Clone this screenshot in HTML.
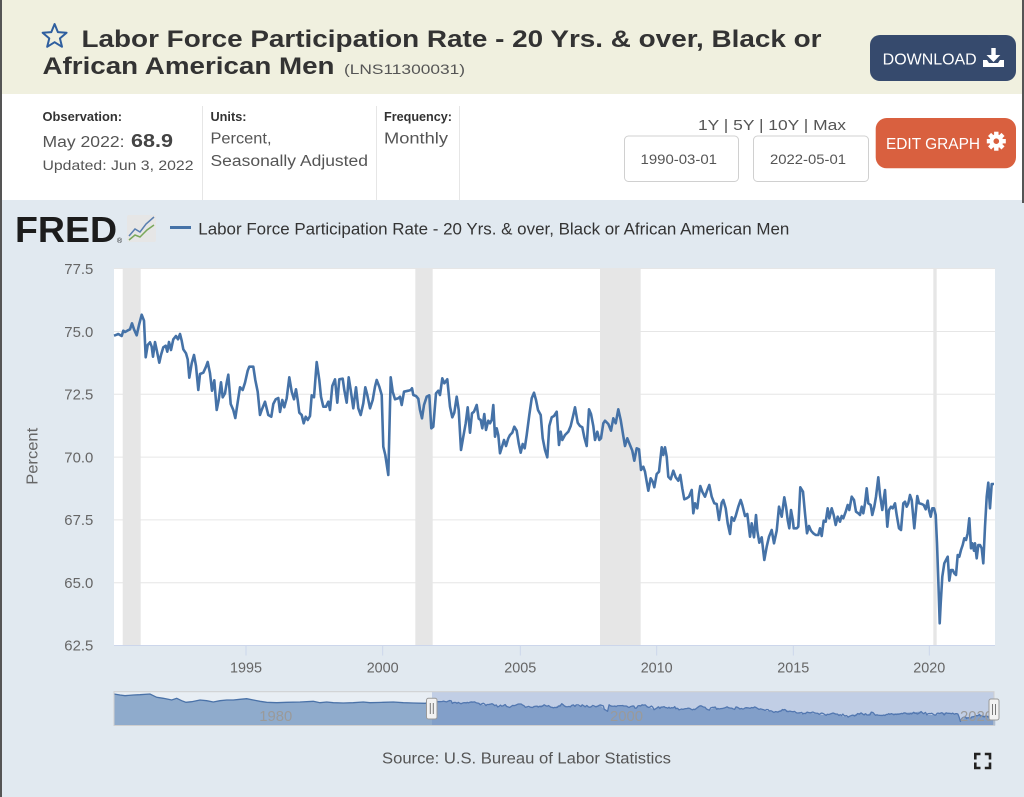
<!DOCTYPE html>
<html><head><meta charset="utf-8"><style>
html,body{margin:0;padding:0;background:#e1e9f0;}
svg{display:block}
text{font-family:"Liberation Sans",sans-serif}
</style></head><body>
<svg width="1024" height="797" viewBox="0 0 1024 797" xmlns="http://www.w3.org/2000/svg">
<defs>
<polyline id="s" fill="none" stroke-linejoin="round" vector-effect="non-scaling-stroke" points="114,335.7 116.7,334.7 118.3,334 120,335 121.7,336 123.3,330.7 125,332 127.3,330.7 130,329.3 132,323.3 134,329.3 136.7,335.3 139,325 141.7,314.7 144,320.7 145.7,357.3 147.7,345 150,342.3 151.7,346.7 153,356.7 155,342 156.7,350 159.3,362.7 161,355 163.3,347.3 165.7,345.7 167.3,351.7 169,342 171,350 173.3,339.3 176,336 178,339.3 180,334 181.7,340.7 183.3,349.3 186,353.3 187.7,359.3 189.3,377.7 191.7,363.3 194,355 196,366 198.3,390 200,374 203.3,372.7 206,366.7 207.7,362 210,373.3 212,390.7 214.3,380.3 216.7,410 218.7,400 221,382.3 222.7,397.3 225,393.3 226.7,382.7 228.3,374.7 230.7,404 233.3,410 235.3,418 238.3,398.3 240,387.3 242.7,390 245,382.7 247.7,370.7 249.3,366.7 253.3,366.7 255.3,380 257.7,391.7 260,415 261.7,410 265,401.7 268.3,415 271.3,416.7 273.3,404 275.7,399.3 278.3,398 280,412 282.3,400 284.3,407.3 286.7,398.3 289.3,377.3 291.7,391.7 294,399.3 296,389.3 297.7,400 299.3,412.7 301.7,415 303.7,423.3 305.7,416.7 307.7,420 310,416 311.7,395.3 314,397.3 316.7,362 319.3,380 321,396.7 323.3,406.7 326,406.7 328.3,401.7 330,410 332.3,386 335,379.3 337.3,402.7 339.3,379.3 342.7,378.7 344.3,390 346.7,402.7 348.7,377.3 350.7,390 353.3,408.3 356,387.3 358.3,408.3 360.7,415 363.3,403.3 365.3,387.3 367.3,395 370,408.3 372.7,400 375,386.7 376.7,380 379.3,386.7 381.7,395 383.3,446.7 385.3,455 388.3,475 390.7,377.3 392.7,391.7 395,399.3 398.3,398.3 400,396.7 401.7,405 404,391.7 408.3,390.7 410.7,390 412,388.3 413.3,395 416,396 418.3,398.7 420,410 422,418.3 424,405 426.7,396.7 429.3,395.3 431.3,428.3 433.3,426.7 436,393.3 438.3,390.7 440,395 442.3,378.3 444.3,383.3 447.3,379.3 450,406.7 452.3,417.3 454.3,412.7 456.7,396.7 458.7,410 461,450 463.3,436.7 465.7,423.3 467.7,407.3 470,432.7 472,413.3 474,411.7 476.7,405 478.7,418.7 480.7,420 482.3,428.3 484.3,414 486,430 488.3,420.7 490,423.3 491.7,420 493.3,405 495,436.7 496.7,428.3 498.3,435 500,453.3 502,446.7 504,440 506,446 508.3,438.3 510,435 512.3,432.7 514.3,426.7 516.7,430.7 518.7,443.3 520.7,452.7 522.7,444 524.7,448.3 526.7,435 529.3,415 531.7,398.3 534,392.7 536,400 538,410 540.7,415 542.7,438.3 545,450 547.3,457.3 549.3,426 551.7,417.3 554,416 556.7,411.7 559,445 560.7,431.7 562.3,440 565,435 568.3,431.7 570.7,426 573.3,415 575,407.3 577.7,422.7 580,426 582.3,427.3 584.3,437.3 586.7,446 589,409.3 591,414 593.3,426 595,440 597.3,431.7 599.3,440 601,438.3 603.3,423.3 605,420.7 608.3,424 611,430.7 613.3,418.3 615.7,423.3 618.3,409.3 620.7,420 623.3,436 625,446 627.3,438.3 630,445 632.3,450.7 634.3,460.7 636.7,448.3 639,449.3 641,470 643.3,466.7 645,471.7 646.7,481.7 648.3,490.7 650.7,478.3 652.7,481.7 654.3,487.3 656.7,474 659,471.7 661.7,447.3 663.3,455 665,447.3 666.7,456.7 668.3,476.7 670.7,479.3 673.3,470.7 675.7,477.3 678.3,480.7 680.3,475 682.3,488.3 684.3,499.3 686.7,498.3 689,496.7 691.7,490 693.3,513.3 695,503.3 697.3,508.3 699,494 700.3,486 702.3,491.7 705,496.7 707.3,490 709.3,485 711.7,496.7 714.3,503.3 716.7,504 719,520 721.7,502.7 723.3,500 725.7,508.3 727.7,523.3 730,534 731.7,517.3 734,520.7 735.7,516 738.3,506.7 740.7,500 742.3,505 745,516 747.3,514 750,536.7 751.7,523.3 754,537.3 756,515 757.3,530.7 759.3,542.7 761.7,537.3 764.3,560 766.7,546.7 769,536.7 771.7,530 774,543.3 776.7,530.7 779,506.7 781.7,516.7 784.3,497.3 786,506.7 787.7,520 789.3,528.3 791,510 792.7,519.3 793.7,528.3 796.7,528.3 798.3,526.7 800.3,487.3 803,491.7 805,513.3 807,533.3 809,526 811,530.7 813.3,533.3 815.7,535 818.3,535 820,528.3 821.7,536 823.7,520.7 825.7,521.7 827.7,508.3 829.3,518.3 831.7,508.3 833.7,515 835.7,525 837.7,516.7 840,521.7 841.7,516 843.3,518.3 845.7,511.7 847.7,505 849.3,510 851.7,496.7 854,500 856,511.7 858.3,513.3 860,515 861.7,506.7 863.3,513.3 865,503.3 866.7,488.3 868.3,503.3 870.7,505 872.3,515 874.3,506.7 876,496.7 878.3,477.3 880,495 882.3,510 885,490 887.3,526.7 889,510 891,506.7 892.7,508.3 895,503.3 896.7,515 899,528.3 901,530 903.3,503.3 905,501.7 906.7,506.7 908.3,503.3 910,495 911.7,500 914.3,528.3 915.7,513.3 917.3,496 919,503.3 921.7,504 923.7,505 925.7,509.3 927.7,500.7 929,510 930.7,516.7 932.3,508.3 934,508.3 935.7,515 937,543.3 938.3,580 939.7,623.3 940.7,603.3 942.3,576.7 944.3,563.3 946,560 947.7,556.7 949.3,580.7 951,570 952.7,570 954.3,573.3 956,575 957.7,555 959.3,556.7 961,550 962.7,545 964.3,538.3 966,540 967.7,533.3 969.3,518.3 971,548.3 972.3,543.3 974,550.7 975,543.3 976.7,558.3 978.3,545 980,545 981.7,548.3 983.3,563.3 985,526.7 986.7,496.7 988.3,482.7 990,508.3 991.7,484 994,484"/>
</defs>

<!-- section backgrounds -->
<rect x="0" y="0" width="1024" height="94" fill="#f0f0df"/>
<rect x="0" y="94" width="1024" height="106" fill="#ffffff"/>
<rect x="0" y="200" width="1024" height="597" fill="#e1e9f0"/>
<rect x="0" y="0" width="2" height="797" fill="#555"/>
<rect x="1022" y="0" width="2" height="203" fill="#555"/>

<!-- title -->
<polygon points="54.6,24 57.89,32.07 66.58,32.71 59.93,38.33 62.01,46.79 54.6,42.2 47.19,46.79 49.27,38.33 42.62,32.71 51.31,32.07" fill="none" stroke="#2f5f9f" stroke-width="2" stroke-linejoin="round"/>
<text x="81.5" y="47" font-size="24.5" font-weight="bold" fill="#333" textLength="740" lengthAdjust="spacingAndGlyphs">Labor Force Participation Rate - 20 Yrs. &amp; over, Black or</text>
<text x="42.5" y="74" font-size="24.5" font-weight="bold" fill="#333" textLength="292" lengthAdjust="spacingAndGlyphs">African American Men</text>
<text x="344" y="74" font-size="14" fill="#555" textLength="121" lengthAdjust="spacingAndGlyphs">(LNS11300031)</text>

<!-- download button -->
<rect x="870" y="35" width="146" height="46" rx="10" fill="#364a6d"/>
<text x="882.7" y="64.3" font-size="15.5" fill="#fff" textLength="94" lengthAdjust="spacingAndGlyphs">DOWNLOAD</text>
<g fill="#fff">
<rect x="991.3" y="48" width="4.4" height="8"/>
<polygon points="986.5,55 1000.3,55 993.5,62"/>
<path d="M983,60 h4 l2,3 h9 l2,-3 h4 v7 h-21 z"/>
</g>

<!-- info row -->
<g stroke="#e6e6e6" stroke-width="1">
<line x1="202.5" y1="106" x2="202.5" y2="200"/>
<line x1="376.5" y1="106" x2="376.5" y2="200"/>
<line x1="459.5" y1="106" x2="459.5" y2="200"/>
</g>
<text x="42.5" y="121" font-size="12.5" font-weight="bold" fill="#333" textLength="79.5" lengthAdjust="spacingAndGlyphs">Observation:</text>
<text x="42.5" y="147" font-size="15.5" fill="#555" textLength="82" lengthAdjust="spacingAndGlyphs">May 2022:</text>
<text x="131" y="147" font-size="18" font-weight="bold" fill="#444" textLength="42" lengthAdjust="spacingAndGlyphs">68.9</text>
<text x="42.5" y="170" font-size="14" fill="#555" textLength="151" lengthAdjust="spacingAndGlyphs">Updated: Jun 3, 2022</text>
<text x="210.5" y="121" font-size="12.5" font-weight="bold" fill="#333" textLength="36" lengthAdjust="spacingAndGlyphs">Units:</text>
<text x="210.5" y="143.5" font-size="15.5" fill="#555" textLength="61" lengthAdjust="spacingAndGlyphs">Percent,</text>
<text x="210.5" y="166" font-size="15.5" fill="#555" textLength="157.5" lengthAdjust="spacingAndGlyphs">Seasonally Adjusted</text>
<text x="384" y="121" font-size="12.5" font-weight="bold" fill="#333" textLength="68" lengthAdjust="spacingAndGlyphs">Frequency:</text>
<text x="384" y="143.5" font-size="15.5" fill="#555" textLength="64" lengthAdjust="spacingAndGlyphs">Monthly</text>

<text x="698" y="130" font-size="15" fill="#555" textLength="148" lengthAdjust="spacingAndGlyphs">1Y | 5Y | 10Y | Max</text>
<rect x="624.5" y="136" width="114" height="45.5" rx="4" fill="#fff" stroke="#d0d0d0"/>
<rect x="753.5" y="136" width="115" height="45.5" rx="4" fill="#fff" stroke="#d0d0d0"/>
<text x="640.5" y="164" font-size="14" fill="#555" textLength="76.5" lengthAdjust="spacingAndGlyphs">1990-03-01</text>
<text x="770" y="164" font-size="14" fill="#555" textLength="76" lengthAdjust="spacingAndGlyphs">2022-05-01</text>

<!-- edit graph -->
<rect x="875.7" y="118" width="140.3" height="50.3" rx="11" fill="#d9603f"/>
<text x="886" y="149" font-size="15.5" fill="#fff" textLength="94" lengthAdjust="spacingAndGlyphs">EDIT GRAPH</text>
<g transform="translate(996.3,141.2)" fill="#fff">
<rect x="-2.2" y="-9.5" width="4.4" height="19"/>
<rect x="-2.2" y="-9.5" width="4.4" height="19" transform="rotate(45)"/>
<rect x="-2.2" y="-9.5" width="4.4" height="19" transform="rotate(90)"/>
<rect x="-2.2" y="-9.5" width="4.4" height="19" transform="rotate(135)"/>
<circle r="6.8"/>
<circle r="2.8" fill="#d9603f"/>
</g>

<!-- legend -->
<text x="15" y="242" font-size="36" font-weight="bold" fill="#1c1c1c" textLength="102" lengthAdjust="spacingAndGlyphs">FRED</text>
<text x="117" y="243" font-size="7" fill="#1c1c1c">®</text>
<rect x="127" y="215" width="29" height="27" rx="2" fill="#e6e6e6"/>
<polyline points="129,236 135,229 140,232 146,224 154,217" fill="none" stroke="#5a7fb0" stroke-width="1.5"/>
<polyline points="129,240 135,235 140,237 147,230 154,225" fill="none" stroke="#7aa85a" stroke-width="1.5"/>
<line x1="170" y1="227.5" x2="191" y2="227.5" stroke="#4572a7" stroke-width="3"/>
<text x="198.3" y="234.3" font-size="17" fill="#333" textLength="591" lengthAdjust="spacingAndGlyphs">Labor Force Participation Rate - 20 Yrs. &amp; over, Black or African American Men</text>

<!-- plot -->
<rect x="114" y="268.3" width="881" height="377.2" fill="#ffffff"/>
<g stroke="#e6e6e6" stroke-width="1">
<line x1="114" y1="268.5" x2="995" y2="268.5"/>
<line x1="114" y1="331.5" x2="995" y2="331.5"/>
<line x1="114" y1="394.3" x2="995" y2="394.3"/>
<line x1="114" y1="457.1" x2="995" y2="457.1"/>
<line x1="114" y1="519.9" x2="995" y2="519.9"/>
<line x1="114" y1="582.7" x2="995" y2="582.7"/>
</g>
<g fill="#e6e6e6">
<rect x="122.7" y="268.3" width="18" height="377.2"/>
<rect x="415.3" y="268.3" width="17.4" height="377.2"/>
<rect x="600" y="268.3" width="40.7" height="377.2"/>
<rect x="933.3" y="268.3" width="3.4" height="377.2"/>
</g>
<line x1="114" y1="645.5" x2="995" y2="645.5" stroke="#ccd6eb" stroke-width="1"/>
<g stroke="#ccd6eb" stroke-width="1">
<line x1="246" y1="645.5" x2="246" y2="655.5"/>
<line x1="382.7" y1="645.5" x2="382.7" y2="655.5"/>
<line x1="520.3" y1="645.5" x2="520.3" y2="655.5"/>
<line x1="656.7" y1="645.5" x2="656.7" y2="655.5"/>
<line x1="793.3" y1="645.5" x2="793.3" y2="655.5"/>
<line x1="929.3" y1="645.5" x2="929.3" y2="655.5"/>
</g>
<use href="#s" stroke="#4572a7" stroke-width="2.6"/>

<!-- y labels -->
<g font-size="15" fill="#666" text-anchor="end">
<text x="93.3" y="273.8" textLength="29" lengthAdjust="spacingAndGlyphs">77.5</text>
<text x="93.3" y="336.8" textLength="29" lengthAdjust="spacingAndGlyphs">75.0</text>
<text x="93.3" y="399.6" textLength="29" lengthAdjust="spacingAndGlyphs">72.5</text>
<text x="93.3" y="462.4" textLength="29" lengthAdjust="spacingAndGlyphs">70.0</text>
<text x="93.3" y="525.2" textLength="29" lengthAdjust="spacingAndGlyphs">67.5</text>
<text x="93.3" y="588" textLength="29" lengthAdjust="spacingAndGlyphs">65.0</text>
<text x="93.3" y="650.3" textLength="29" lengthAdjust="spacingAndGlyphs">62.5</text>
</g>
<text transform="translate(37.5,456.3) rotate(-90)" text-anchor="middle" font-size="16" fill="#666" textLength="57" lengthAdjust="spacingAndGlyphs">Percent</text>

<!-- x labels -->
<g font-size="15" fill="#666" text-anchor="middle">
<text x="246" y="672.3" textLength="32" lengthAdjust="spacingAndGlyphs">1995</text>
<text x="382.7" y="672.3" textLength="32" lengthAdjust="spacingAndGlyphs">2000</text>
<text x="520.3" y="672.3" textLength="32" lengthAdjust="spacingAndGlyphs">2005</text>
<text x="656.7" y="672.3" textLength="32" lengthAdjust="spacingAndGlyphs">2010</text>
<text x="793.3" y="672.3" textLength="32" lengthAdjust="spacingAndGlyphs">2015</text>
<text x="929.3" y="672.3" textLength="32" lengthAdjust="spacingAndGlyphs">2020</text>
</g>

<!-- navigator -->
<rect x="114" y="691.7" width="880" height="33.8" fill="#e8eef4"/>
<polygon fill="#8fabcc" points="114,694 120,695 125,695.7 133.3,695 140,694.7 150,694 156.7,697.3 163.3,698.3 168.3,699.3 171.7,700 176.7,698.3 181.7,700.7 186,702.3 191.7,701.7 200,700 206.7,700.7 213.3,702 220,700.7 226.7,700 233.3,700 240,699.3 246.7,698.7 253.3,700 260,701.3 266.7,702.3 276.7,702.7 286.7,702.3 300,702 313.3,701.3 320,702.7 326.7,702 333.3,702.7 343.3,703 353.3,702.7 363.3,702 370,702.7 383.3,702.3 393.3,702 403.3,702.7 413.3,703 425,703.3 432,702 432,725.5 114,725.5"/>
<polyline fill="none" stroke="#4a72a8" stroke-width="1.3" points="114,694 120,695 125,695.7 133.3,695 140,694.7 150,694 156.7,697.3 163.3,698.3 168.3,699.3 171.7,700 176.7,698.3 181.7,700.7 186,702.3 191.7,701.7 200,700 206.7,700.7 213.3,702 220,700.7 226.7,700 233.3,700 240,699.3 246.7,698.7 253.3,700 260,701.3 266.7,702.3 276.7,702.7 286.7,702.3 300,702 313.3,701.3 320,702.7 326.7,702 333.3,702.7 343.3,703 353.3,702.7 363.3,702 370,702.7 383.3,702.3 393.3,702 403.3,702.7 413.3,703 425,703.3 432,702"/>
<g transform="matrix(0.64 0 0 0.0677 359.04 679.204)">
<polygon fill="#8fabcc" points="114,335.7 118.3,334 123.3,330.7 130,329.3 132,323.3 136.7,335.3 141.7,314.7 145.7,357.3 155,342 159.3,362.7 169,342 176,336 180,334 187.7,359.3 198.3,390 207.7,362 216.7,410 228.3,374.7 235.3,418 249.3,366.7 253.3,366.7 260,415 271.3,416.7 278.3,398 289.3,377.3 303.7,423.3 316.7,362 326,406.7 335,379.3 346.7,402.7 348.7,377.3 360.7,415 376.7,380 383.3,446.7 388.3,475 390.7,377.3 401.7,405 412,388.3 422,418.3 429.3,395.3 431.3,428.3 442.3,378.3 447.3,379.3 461,450 467.7,407.3 476.7,405 486,430 493.3,405 500,453.3 514.3,426.7 520.7,452.7 534,392.7 547.3,457.3 556.7,411.7 559,445 575,407.3 586.7,446 589,409.3 599.3,440 618.3,409.3 625,446 634.3,460.7 648.3,490.7 661.7,447.3 665,447.3 684.3,499.3 693.3,513.3 700.3,486 719,520 730,534 740.7,500 750,536.7 764.3,560 779,506.7 784.3,497.3 793.7,528.3 800.3,487.3 807,533.3 821.7,536 831.7,508.3 851.7,496.7 866.7,488.3 878.3,477.3 887.3,526.7 901,530 910,495 917.3,496 935.7,515 939.7,623.3 947.7,556.7 956,575 969.3,518.3 983.3,563.3 988.3,482.7 991.7,484 994,484 994,684 114,684"/>
<use href="#s" stroke="#4a72a8" stroke-width="1.3"/>
</g>
<rect x="432" y="691.7" width="562" height="33.8" fill="rgb(102,133,194)" fill-opacity="0.3"/>
<rect x="114" y="691.7" width="880" height="33.8" fill="none" stroke="#cfcfcf" stroke-width="1"/>
<g font-size="15" fill="#9a9a9a">
<text x="259.3" y="721" textLength="33" lengthAdjust="spacingAndGlyphs">1980</text>
<text x="610" y="721" textLength="33" lengthAdjust="spacingAndGlyphs">2000</text>
<text x="960" y="721" textLength="33" lengthAdjust="spacingAndGlyphs">2020</text>
</g>
<g fill="#f2f2f2" stroke="#999" stroke-width="1">
<rect x="426.5" y="698.3" width="10.5" height="20.7" rx="2"/>
<rect x="989" y="699" width="10" height="21" rx="2"/>
</g>
<g stroke="#777" stroke-width="1">
<line x1="430.3" y1="703" x2="430.3" y2="714"/>
<line x1="433.3" y1="703" x2="433.3" y2="714"/>
<line x1="992.5" y1="704" x2="992.5" y2="715"/>
<line x1="995.5" y1="704" x2="995.5" y2="715"/>
</g>

<!-- source -->
<text x="526.5" y="763.3" font-size="15.5" fill="#555" text-anchor="middle" textLength="289" lengthAdjust="spacingAndGlyphs">Source: U.S. Bureau of Labor Statistics</text>

<!-- fullscreen icon -->
<g fill="none" stroke="#222" stroke-width="2.6">
<path d="M975.3,759.5 V754 H980.5"/>
<path d="M984.8,754 H990 V759.5"/>
<path d="M975.3,762.5 V768 H980.5"/>
<path d="M990,762.5 V768 H984.8"/>
</g>
</svg>
</body></html>
